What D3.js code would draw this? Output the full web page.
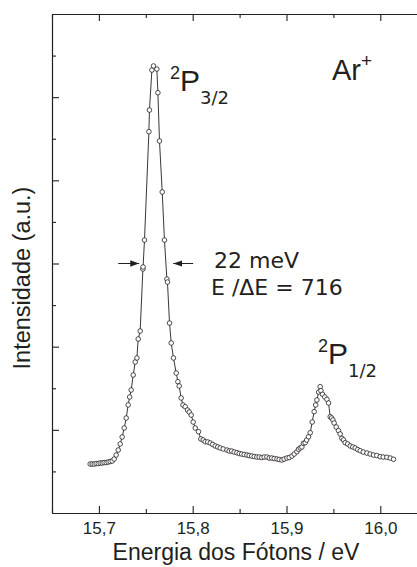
<!DOCTYPE html>
<html>
<head>
<meta charset="utf-8">
<script src="https://cdn.jsdelivr.net/npm/d3@7"></script>
<style>
  body { margin: 0; background: #fff; }
  svg { display: block; }
  .axis path, .axis line { stroke: #231f20; stroke-width: 1.1; }
  .axis text { font-family: 'Liberation Sans', Arial, sans-serif; font-size: 17px; fill: #231f20; }
</style>
</head>
<body>
<div id="chart"></div>
<script>
// photon energy (eV) and intensity (a.u.)
const energy = [15.6907, 15.6929, 15.6950, 15.6971, 15.6993, 15.7014, 15.7035, 15.7056, 15.7078, 15.7099,
  15.7120, 15.7142, 15.7163, 15.7184, 15.7206, 15.7227, 15.7248, 15.7270, 15.7291, 15.7312,
  15.7328, 15.7344, 15.7366, 15.7387, 15.7405, 15.7419, 15.7440, 15.7469, 15.7471, 15.7486,
  15.7533, 15.7539, 15.7565, 15.7582, 15.7618, 15.7629, 15.7646, 15.7675, 15.7699, 15.7725,
  15.7731, 15.7753, 15.7771, 15.7795, 15.7824, 15.7842, 15.7856, 15.7877, 15.7896, 15.7920,
  15.7945, 15.7963, 15.7984, 15.8005, 15.8027, 15.8062, 15.8087, 15.8112, 15.8133, 15.8160,
  15.8187, 15.8213, 15.8240, 15.8267, 15.8293, 15.8325, 15.8365, 15.8389, 15.8416, 15.8442,
  15.8471, 15.8496, 15.8522, 15.8549, 15.8578, 15.8602, 15.8629, 15.8656, 15.8684, 15.8709,
  15.8736, 15.8762, 15.8791, 15.8816, 15.8842, 15.8869, 15.8898, 15.8922, 15.8951, 15.8975,
  15.9004, 15.9029, 15.9058, 15.9082, 15.9111, 15.9128, 15.9146, 15.9164, 15.9181, 15.9199,
  15.9215, 15.9235, 15.9253, 15.9274, 15.9295, 15.9311, 15.9324, 15.9343, 15.9359, 15.9367,
  15.9384, 15.9408, 15.9431, 15.9448, 15.9466, 15.9480, 15.9495, 15.9508, 15.9530, 15.9554,
  15.9572, 15.9591, 15.9608, 15.9626, 15.9652, 15.9679, 15.9706, 15.9732, 15.9759, 15.9786,
  15.9818, 15.9857, 15.9892, 15.9927, 15.9962, 15.9999, 16.0031, 16.0070, 16.0106, 16.0141];

const intensity = [0.589, 0.589, 0.589, 0.595, 0.595, 0.601, 0.601, 0.607, 0.607, 0.613,
  0.619, 0.625, 0.649, 0.697, 0.757, 0.830, 0.914, 1.022, 1.142, 1.299,
  1.395, 1.479, 1.659, 1.816, 1.864, 2.092, 2.188, 2.934, 2.958, 3.282,
  4.585, 4.845, 5.326, 5.375, 5.338, 5.053, 4.473, 3.860, 3.282, 2.813,
  2.777, 2.284, 2.044, 1.864, 1.683, 1.579, 1.527, 1.383, 1.299, 1.278,
  1.238, 1.214, 1.178, 1.094, 1.022, 0.978, 0.890, 0.878, 0.857, 0.854,
  0.842, 0.824, 0.806, 0.794, 0.782, 0.770, 0.757, 0.745, 0.745, 0.733,
  0.725, 0.715, 0.709, 0.703, 0.697, 0.691, 0.685, 0.679, 0.673, 0.673,
  0.667, 0.673, 0.673, 0.661, 0.661, 0.655, 0.649, 0.643, 0.637, 0.649,
  0.661, 0.667, 0.685, 0.709, 0.737, 0.766, 0.782, 0.794, 0.838, 0.845,
  0.878, 0.917, 0.965, 1.094, 1.218, 1.299, 1.359, 1.455, 1.519, 1.471,
  1.427, 1.395, 1.367, 1.323, 1.158, 1.142, 1.118, 1.082, 1.034, 0.990,
  0.950, 0.898, 0.878, 0.845, 0.830, 0.806, 0.794, 0.782, 0.763, 0.749,
  0.733, 0.721, 0.709, 0.697, 0.691, 0.677, 0.673, 0.670, 0.661, 0.646];

const xTicks = [15.7, 15.8, 15.9, 16.0],
      xTickLabels = ['15,7', '15,8', '15,9', '16,0'],
      xMinorTicks = [15.65, 15.75, 15.85, 15.95, 16.05],
      yTicks = [1, 2, 3, 4, 5],
      yMinorTicks = [0.5, 1.5, 2.5, 3.5, 4.5, 5.5];

// FWHM arrows: [from, to] in eV at half height
const fwhmLeft = [15.7206, 15.7430],
      fwhmRight = [15.8005, 15.7792],
      fwhmLevel = 3.0;

const w = 417,
      h = 567,
      padLeft = 52,
      padTop = 14,
      axisBottomY = 513;

const svg = d3.select('#chart')
              .append('svg')
              .attr('width', w)
              .attr('height', h);

svg.append('defs')
   .append('marker')
   .attr('id', 'head')
   .attr('viewBox', '0 0 10 10')
   .attr('refX', 10)
   .attr('refY', 5)
   .attr('markerWidth', 9)
   .attr('markerHeight', 9)
   .attr('markerUnits', 'userSpaceOnUse')
   .attr('orient', 'auto')
   .append('path')
   .attr('d', 'M0,1.5 L10,5 L0,8.5 Z')
   .attr('fill', '#231f20');

const xScale = d3.scaleLinear()
                 .domain([15.65, 16.05])
                 .range([padLeft, padLeft + 0.4 * 938]);

const yScale = d3.scaleLinear()
                 .domain([0, 6])
                 .range([axisBottomY, padTop]);

const labelOf = v => xTickLabels[xTicks.indexOf(v)];

// bottom axis
svg.append('g')
   .attr('class', 'axis')
   .attr('transform', `translate(0, ${axisBottomY})`)
   .call(d3.axisBottom(xScale).tickValues(xTicks).tickFormat(labelOf)
           .tickSizeInner(-7).tickSizeOuter(0).tickPadding(9));

svg.append('g')
   .attr('class', 'axis')
   .attr('transform', `translate(0, ${axisBottomY})`)
   .call(d3.axisBottom(xScale).tickValues(xMinorTicks).tickFormat('')
           .tickSizeInner(-4).tickSizeOuter(0));

// top axis
svg.append('g')
   .attr('class', 'axis')
   .attr('transform', `translate(0, ${padTop})`)
   .call(d3.axisTop(xScale).tickValues(xTicks).tickFormat('')
           .tickSizeInner(-7).tickSizeOuter(0));

svg.append('g')
   .attr('class', 'axis')
   .attr('transform', `translate(0, ${padTop})`)
   .call(d3.axisTop(xScale).tickValues(xMinorTicks).tickFormat('')
           .tickSizeInner(-4).tickSizeOuter(0));

// left axis
svg.append('g')
   .attr('class', 'axis')
   .attr('transform', `translate(${padLeft}, 0)`)
   .call(d3.axisLeft(yScale).tickValues(yTicks).tickFormat('')
           .tickSizeInner(-7).tickSizeOuter(0));

svg.append('g')
   .attr('class', 'axis')
   .attr('transform', `translate(${padLeft}, 0)`)
   .call(d3.axisLeft(yScale).tickValues(yMinorTicks).tickFormat('')
           .tickSizeInner(-4).tickSizeOuter(0));

// spectrum
const points = energy.map((e, i) => [e, intensity[i]]);

const line = d3.line()
               .x(d => xScale(d[0]))
               .y(d => yScale(d[1]));

svg.append('path')
   .datum(points)
   .attr('d', line)
   .attr('fill', 'none')
   .attr('stroke', '#231f20')
   .attr('stroke-width', 0.9);

svg.selectAll('circle')
   .data(points)
   .enter()
   .append('circle')
   .attr('cx', d => xScale(d[0]))
   .attr('cy', d => yScale(d[1]))
   .attr('r', 2.3)
   .attr('fill', '#fff')
   .attr('stroke', '#231f20')
   .attr('stroke-width', 0.8);

// FWHM arrows
[fwhmLeft, fwhmRight].forEach(a => {
  svg.append('line')
     .attr('x1', xScale(a[0]))
     .attr('x2', xScale(a[1]))
     .attr('y1', yScale(fwhmLevel))
     .attr('y2', yScale(fwhmLevel))
     .attr('stroke', '#231f20')
     .attr('stroke-width', 1)
     .attr('marker-end', 'url(#head)');
});

// texts
const sans = "'Liberation Sans', Arial, sans-serif",
      wide = "'DejaVu Sans', Verdana, sans-serif";

svg.append('text')
   .attr('x', 236)
   .attr('y', 560)
   .attr('text-anchor', 'middle')
   .style('font-family', sans)
   .style('font-size', '23px')
   .style('fill', '#231f20')
   .text('Energia dos Fótons / eV');

svg.append('text')
   .attr('transform', 'translate(30, 278) rotate(-90)')
   .attr('text-anchor', 'middle')
   .style('font-family', sans)
   .style('font-size', '23.5px')
   .style('fill', '#231f20')
   .text('Intensidade (a.u.)');

function term(x, y, sup, main, sub) {
  const t = svg.append('text')
               .attr('x', x)
               .attr('y', y)
               .style('font-family', sans)
               .style('fill', '#231f20');
  t.append('tspan').attr('dy', -12).style('font-size', '18px').text(sup);
  t.append('tspan').attr('dy', 12).style('font-size', '30px').text(main);
  t.append('tspan').attr('dy', 13).style('font-family', wide).style('font-size', '18px').text(sub);
}

term(170, 91, '2', 'P', '3/2');
term(318, 364, '2', 'P', '1/2');

const ar = svg.append('text')
              .attr('x', 332)
              .attr('y', 80)
              .style('font-family', sans)
              .style('fill', '#231f20');
ar.append('tspan').style('font-size', '29px').text('Ar');
ar.append('tspan').attr('dy', -13).style('font-size', '19px').text('+');

svg.append('text')
   .attr('x', 214)
   .attr('y', 268)
   .style('font-family', wide)
   .style('font-size', '22px')
   .style('fill', '#231f20')
   .text('22 meV');

svg.append('text')
   .attr('x', 211)
   .attr('y', 295)
   .style('font-family', wide)
   .style('font-size', '22px')
   .style('fill', '#231f20')
   .text('E /ΔE = 716');
</script>
</body>
</html>
